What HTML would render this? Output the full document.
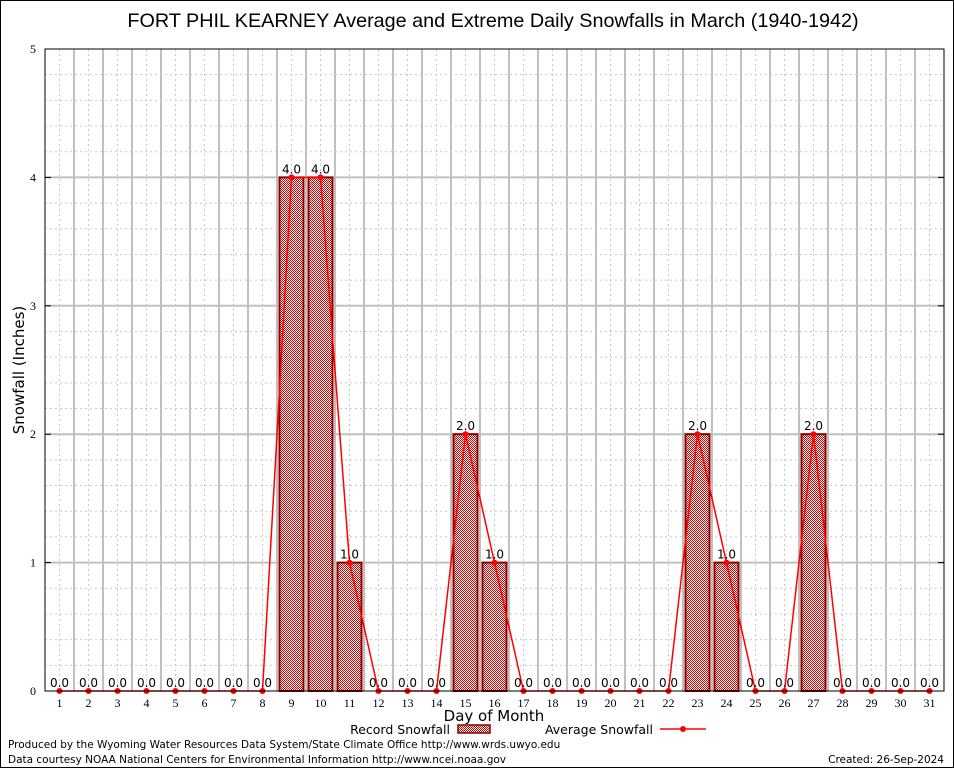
<!DOCTYPE html>
<html><head><meta charset="utf-8"><style>
body{margin:0;background:#fff;}
svg{display:block;font-family:"DejaVu Sans","Liberation Sans",sans-serif;}
</style></head><body>
<svg id="chart" width="954" height="768" viewBox="0 0 954 768">
<defs>
<pattern id="chk" width="2" height="2" patternUnits="userSpaceOnUse">
<rect width="2" height="2" fill="#fff"/><rect width="1" height="1" fill="#d00000"/><rect x="1" y="1" width="1" height="1" fill="#d00000"/>
</pattern>
</defs>
<rect x="0.5" y="0.5" width="953" height="767" fill="#fff" stroke="#000"/>
<text x="493" y="27" font-size="19.8" text-anchor="middle" font-family="Liberation Sans, sans-serif">FORT PHIL KEARNEY Average and Extreme Daily Snowfalls in March (1940-1942)</text>
<g id="grid"></g>
<g id="bars"></g>
<g id="line"></g>
<g id="labels"></g>
<rect x="45" y="49" width="899" height="642" fill="none" stroke="#000"/>
<g id="axes"></g>
<text transform="translate(24,370) rotate(-90)" font-size="15" text-anchor="middle">Snowfall (Inches)</text>
<text x="494" y="721" font-size="15" text-anchor="middle">Day of Month</text>
<g>
<text x="450" y="734" font-size="12.5" text-anchor="end">Record Snowfall</text>
<rect x="458" y="725" width="32" height="8" fill="url(#chk)" stroke="#8b0000" stroke-width="1.5"/>
<text x="653" y="734" font-size="12.5" text-anchor="end">Average Snowfall</text>
<line x1="660" y1="729" x2="706" y2="729" stroke="#f00" stroke-width="1.5"/>
<circle cx="683" cy="729" r="3" fill="#f00"/>
</g>
<text x="8" y="748" font-size="10.5">Produced by the Wyoming Water Resources Data System/State Climate Office http://www.wrds.uwyo.edu</text>
<text x="8" y="763" font-size="10.5">Data courtesy NOAA National Centers for Environmental Information http://www.ncei.noaa.gov</text>
<text x="944" y="763" font-size="10.5" text-anchor="end">Created: 26-Sep-2024</text>
</svg>
<script>
const days=[1,2,3,4,5,6,7,8,9,10,11,12,13,14,15,16,17,18,19,20,21,22,23,24,25,26,27,28,29,30,31];
const recordVals=[0,0,0,0,0,0,0,0,4,4,1,0,0,0,2,1,0,0,0,0,0,0,2,1,0,0,2,0,0,0,0];
const avgVals=[0,0,0,0,0,0,0,0,4,4,1,0,0,0,2,1,0,0,0,0,0,0,2,1,0,0,2,0,0,0,0];
const yTicks=[0,1,2,3,4,5];
const NS="http://www.w3.org/2000/svg";
const X0=45,X1=944,Y0=691,Y1=49,YMAX=5;
const step=(X1-X0)/31;
const xs=d=>X0+step*(d-0.5);
const ys=v=>Y0-(Y0-Y1)*v/YMAX;
function mk(tag,attrs,parent,txt){const e=document.createElementNS(NS,tag);for(const k in attrs)e.setAttribute(k,attrs[k]);if(txt!==undefined)e.textContent=txt;document.getElementById(parent).appendChild(e);return e;}
for(let i=1;i<31;i++){const x=X0+step*i;
const g=mk('line',{x1:x,x2:x,y1:Y1,y2:Y0,stroke:'#c0c0c0','stroke-width':2},'grid');

}
days.forEach(d=>{const g=mk('line',{x1:xs(d),x2:xs(d),y1:Y1,y2:Y0,stroke:'#c8c8c8','stroke-dasharray':'2,3'},'grid');

});
for(let v=0.2;v<YMAX;v+=0.2){const y=ys(v);const major=Math.abs(v-Math.round(v))<1e-6;
const g=mk('line',{x1:X0,x2:X1,y1:y,y2:y,stroke:major?'#c0c0c0':'#c8c8c8','stroke-width':major?2:1,'stroke-dasharray':major?'':'2,3'},'grid');

}
yTicks.forEach(t=>{const y=ys(t);
const l=mk('text',{x:36,y:y+4,'font-size':12,'text-anchor':'end','font-family':'Liberation Serif, serif'},'axes',String(t));


mk('line',{x1:X0,x2:X0+6,y1:y,y2:y,stroke:'#000'},'axes');
mk('line',{x1:X1,x2:X1-6,y1:y,y2:y,stroke:'#000'},'axes');});
days.forEach(d=>{const l=mk('text',{x:xs(d),y:707,'font-size':12,'text-anchor':'middle','font-family':'Liberation Serif, serif'},'axes',String(d));

});
const bw=24;
days.forEach((d,i)=>{const v=recordVals[i];if(v<=0)return;
const b=mk('rect',{x:xs(d)-bw/2,y:ys(v),width:bw,height:Y0-ys(v),fill:'url(#chk)',stroke:'#8b0000','stroke-width':2},'bars');

});
const pts=days.map((d,i)=>xs(d)+','+ys(avgVals[i])).join(' ');
const pl=mk('polyline',{points:pts,fill:'none',stroke:'#f00','stroke-width':1.5},'line');


days.forEach((d,i)=>{const c=mk('circle',{cx:xs(d),cy:ys(avgVals[i]),r:3,fill:'#f00'},'line');

});
days.forEach((d,i)=>{const v=recordVals[i];
const t=mk('text',{x:xs(d),y:ys(v)-4,'font-size':12,'text-anchor':'middle'},'labels',v.toFixed(1));

});
</script>
</body></html>
